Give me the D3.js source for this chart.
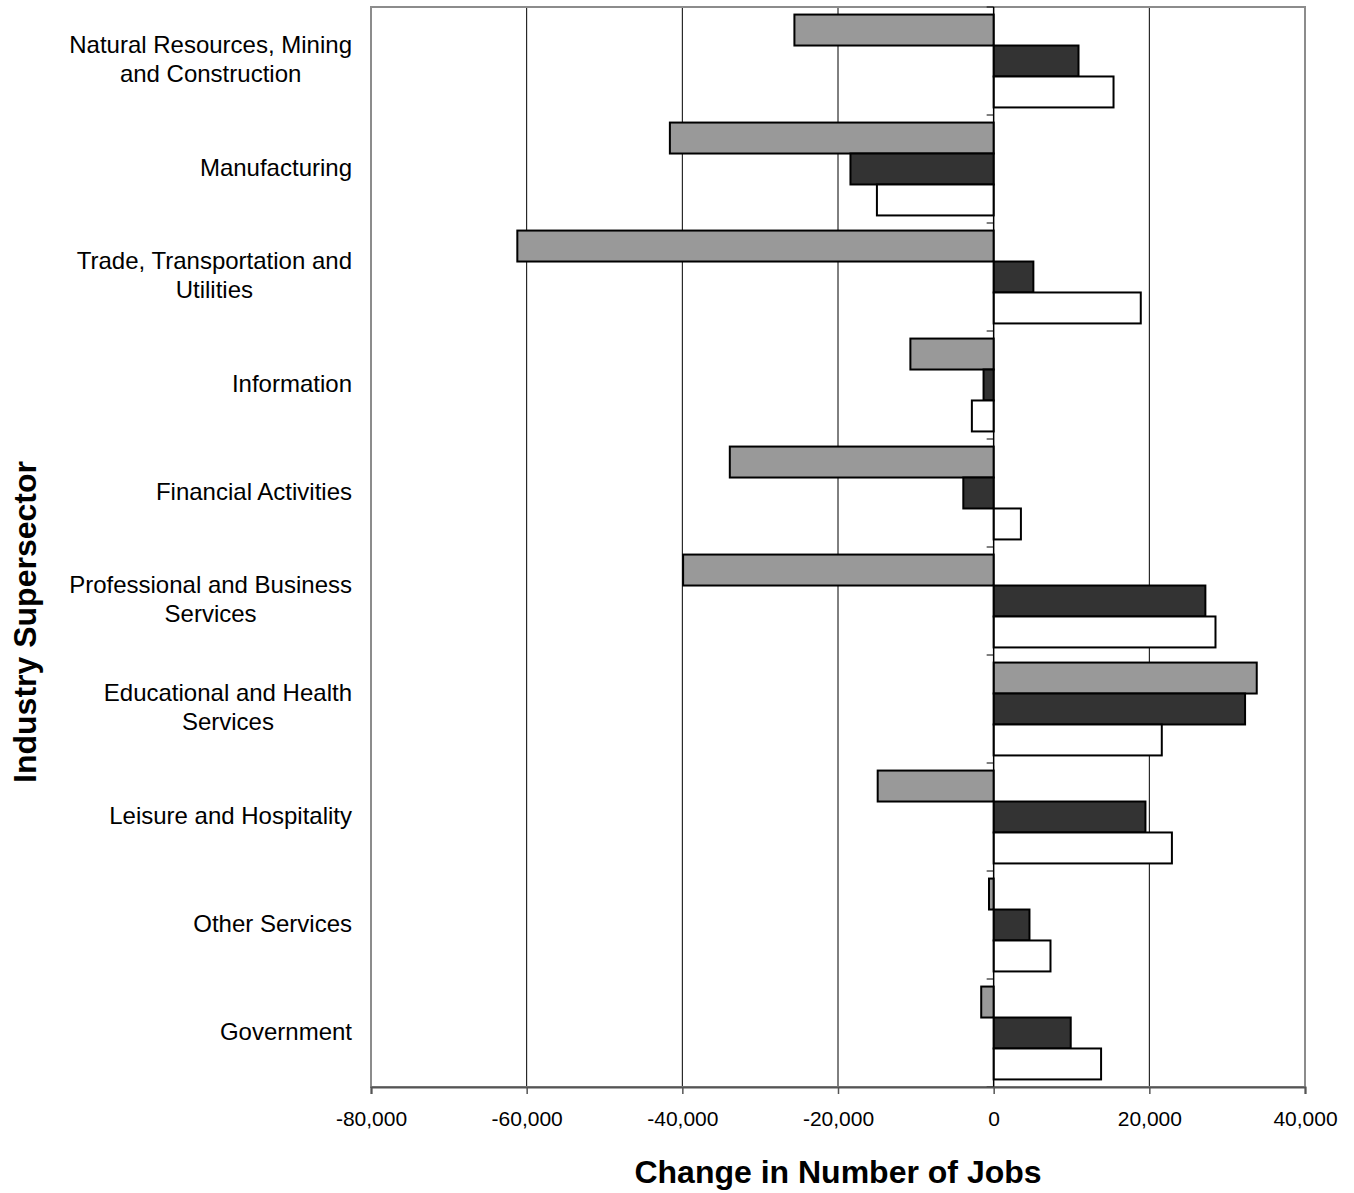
<!DOCTYPE html>
<html>
<head>
<meta charset="utf-8">
<script src="https://cdn.jsdelivr.net/npm/d3@7"></script>
<style>
  body { margin: 0; background: #fff; }
  text { font-family: "Liberation Sans", Arial, sans-serif; fill: #000; }
</style>
</head>
<body>
<svg id="chart"></svg>
<script>
/// DATA ////////////////////////////////////////////////////////////////////////////////

var categories = [
    ["Natural Resources, Mining", "and Construction"],
    ["Manufacturing"],
    ["Trade, Transportation and", "Utilities"],
    ["Information"],
    ["Financial Activities"],
    ["Professional and Business", "Services"],
    ["Educational and Health", "Services"],
    ["Leisure and Hospitality"],
    ["Other Services"],
    ["Government"]
];
var seriesNames = ["s1", "s2", "s3"];
var seriesGray  = [-25600, -41600, -61200, -10700, -33900, -39900, 33800, -14900, -600, -1600];
var seriesDark  = [10900, -18400, 5100, -1300, -3900, 27200, 32300, 19500, 4600, 9900];
var seriesWhite = [15400, -15000, 18900, -2800, 3500, 28500, 21600, 22900, 7300, 13800];
var xTicks = [-80000, -60000, -40000, -20000, 0, 20000, 40000];
var colors = ["#999999", "#333333", "#ffffff"];

/// SETUP ///////////////////////////////////////////////////////////////////////////////

var WIDTH = 1354, HEIGHT = 1193;
var LEFT = 371, TOP = 7, PLOT_W = 934, PLOT_H = 1080;

var svg = d3.select('#chart').attr('width', WIDTH).attr('height', HEIGHT);
var g = svg.append('g').attr('transform', 'translate(' + LEFT + ',' + TOP + ')');

var x = d3.scaleLinear().domain([-80000, 40000]).range([0, PLOT_W]);
var y = d3.scaleBand().domain(d3.range(categories.length)).range([0, PLOT_H]).paddingInner(0.14).paddingOuter(0.07);
var ySub = d3.scaleBand().domain(seriesNames).range([0, y.bandwidth()]);

var rows = [];
categories.forEach(function (c, i) {
    [seriesGray, seriesDark, seriesWhite].forEach(function (s, j) {
        rows.push({ cat: i, series: seriesNames[j], value: s[i], color: colors[j] });
    });
});

// gridlines
g.selectAll('.grid')
    .data(xTicks.filter(function (t) { return t !== -80000 && t !== 40000 && t !== 0; }))
    .enter().append('line')
        .attr('x1', function (d) { return x(d); })
        .attr('x2', function (d) { return x(d); })
        .attr('y1', 0).attr('y2', PLOT_H)
        .attr('stroke', '#000').attr('stroke-width', 1);

// frame (gray)
g.append('rect')
    .attr('x', 0).attr('y', 0).attr('width', PLOT_W).attr('height', PLOT_H)
    .attr('fill', 'none').attr('stroke', '#8c8c8c').attr('stroke-width', 2);

// bars
g.selectAll('.bar')
    .data(rows)
    .enter().append('rect')
        .attr('x', function (d) { return x(Math.min(0, d.value)); })
        .attr('y', function (d) { return y(d.cat) + ySub(d.series); })
        .attr('width', function (d) { return Math.abs(x(d.value) - x(0)); })
        .attr('height', ySub.bandwidth())
        .attr('fill', function (d) { return d.color; })
        .attr('stroke', '#000').attr('stroke-width', 2);

// zero axis with category ticks
g.append('line')
    .attr('x1', x(0)).attr('x2', x(0)).attr('y1', 0).attr('y2', PLOT_H)
    .attr('stroke', '#000').attr('stroke-width', 1.5);
g.selectAll('.ctick')
    .data(d3.range(categories.length + 1))
    .enter().append('line')
        .attr('x1', x(0) - 7).attr('x2', x(0))
        .attr('y1', function (d) { return d * PLOT_H / categories.length; })
        .attr('y2', function (d) { return d * PLOT_H / categories.length; })
        .attr('stroke', '#000').attr('stroke-width', 1);

// bottom axis
var xAxis = g.append('g')
    .attr('transform', 'translate(0,' + PLOT_H + ')')
    .call(d3.axisBottom(x).tickValues(xTicks).tickSize(7).tickPadding(17)
        .tickFormat(function (d) { return d3.format(',')(d).replace('\u2212', '-'); }));
xAxis.select('.domain').attr('stroke', '#555').attr('stroke-width', 2);
xAxis.selectAll('.tick line').attr('stroke', '#555').attr('stroke-width', 1.5);
xAxis.selectAll('text').style('font-size', '21px').style('font-family', '"Liberation Sans", Arial, sans-serif');

// category labels: lines centred on each other, block right-aligned
var labels = g.selectAll('.clabel')
    .data(categories)
    .enter().append('text')
        .attr('text-anchor', 'middle')
        .style('font-size', '24px');
labels.selectAll('tspan')
    .data(function (d) { return d.map(function (t, k) { return { t: t, k: k, n: d.length }; }); })
    .enter().append('tspan')
        .attr('x', 0)
        .attr('y', function (d) { return (d.k - (d.n - 1) / 2) * 29 - (d.n - 1); })
        .attr('dy', '0.35em')
        .text(function (d) { return d.t; });
labels.attr('transform', function (d, i) {
    var maxW = d3.max(d3.select(this).selectAll('tspan').nodes(), function (n) { return n.getComputedTextLength(); });
    return 'translate(' + (-19 - maxW / 2) + ',' + (y(i) + y.bandwidth() / 2 - 1) + ')';
});

// axis titles
svg.append('text')
    .attr('x', LEFT + PLOT_W / 2).attr('y', 1183)
    .attr('text-anchor', 'middle')
    .style('font-size', '32px').style('font-weight', 'bold')
    .text('Change in Number of Jobs');

svg.append('text')
    .attr('transform', 'translate(36,622) rotate(-90)')
    .attr('text-anchor', 'middle')
    .style('font-size', '32px').style('font-weight', 'bold')
    .text('Industry Supersector');
</script>
</body>
</html>
